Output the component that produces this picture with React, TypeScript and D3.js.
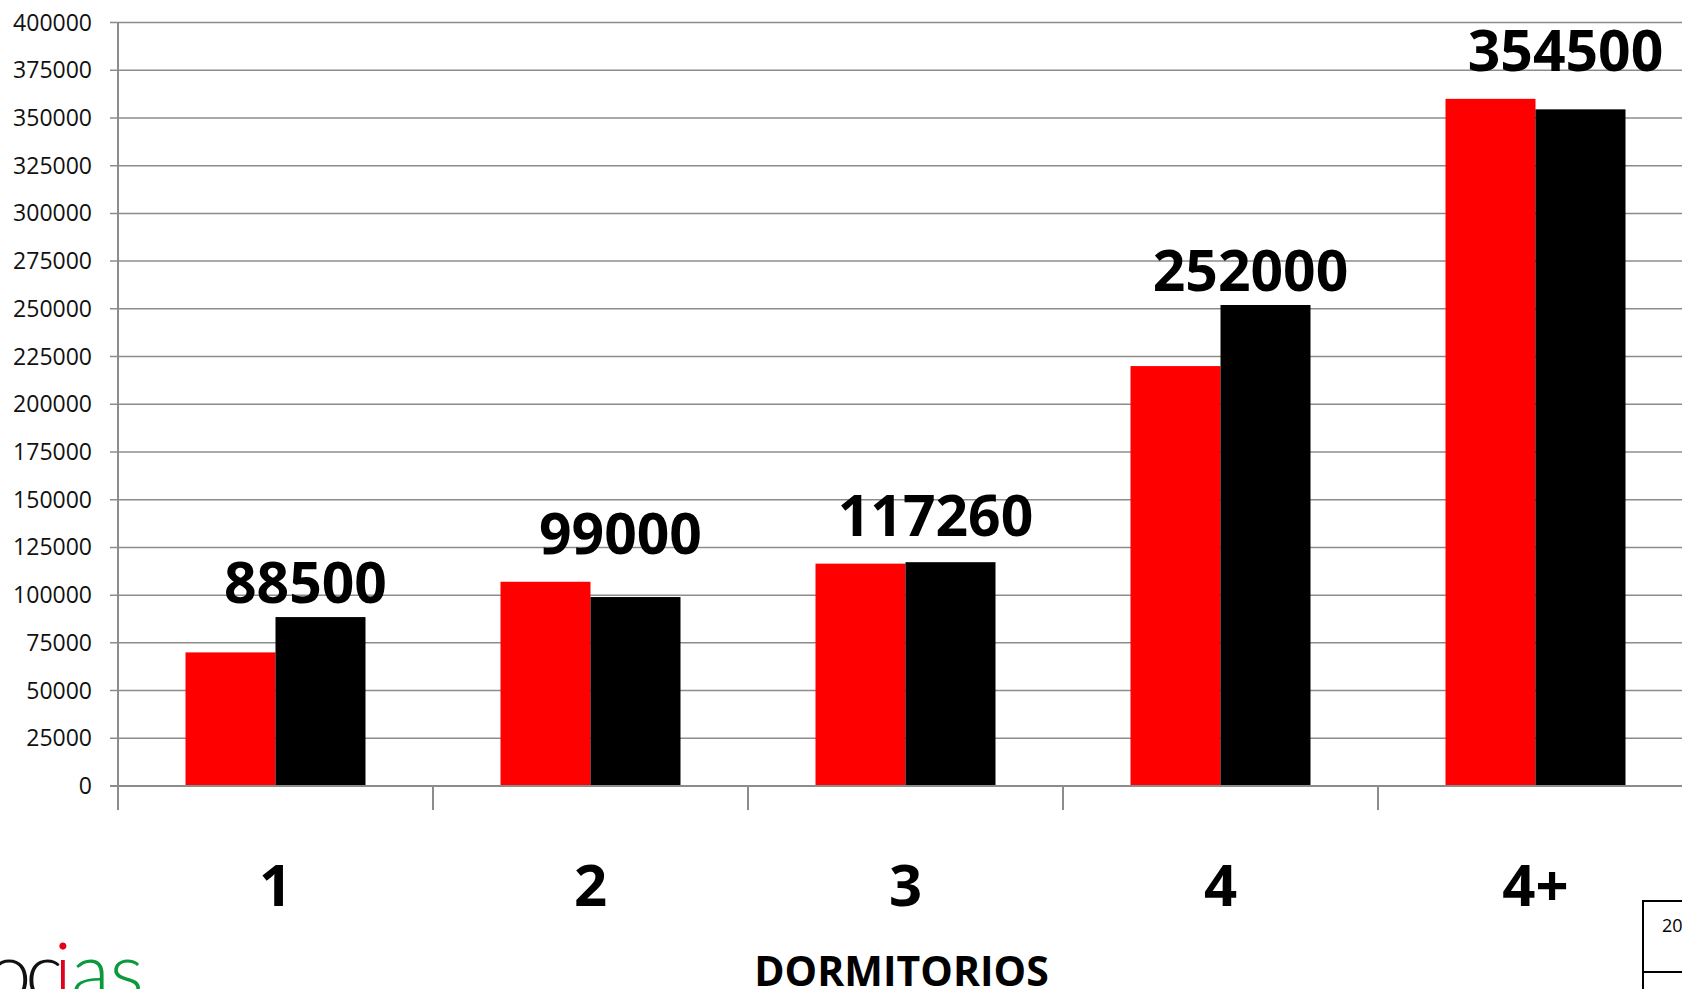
import { useEffect, useRef } from 'react';
import * as d3 from 'd3';

const categories = ['1', '2', '3', '4', '4+'];
const seriesNames = ['2013', '2014'];
const redValues = [70000, 107000, 116500, 220000, 360000];
const blackValues = [88500, 99000, 117260, 252000, 354500];
const yTicks = d3.range(0, 400001, 25000);

const W = 1682;
const H = 989;
const FONT = '"Open Sans", "Liberation Sans", sans-serif';

export default function App() {
    const svgRef = useRef<SVGSVGElement>(null);

    useEffect(() => {
        document.body.style.margin = '0';
        if (!svgRef.current) return;

        const left = 118;
        const step = 315;
        const top = 22.5;
        const bottom = 786;

        const x = d3.scaleBand<string>()
            .domain(categories)
            .range([left, left + step * categories.length])
            .paddingInner(0.4286)
            .paddingOuter(0.2143);
        const xs = d3.scaleBand<string>().domain(seriesNames).range([0, x.bandwidth()]);
        const y = d3.scaleLinear().domain([0, 400000]).range([bottom, top]);

        const svg = d3.select(svgRef.current);
        svg.selectAll('*').remove();
        svg.attr('width', W).attr('height', H);

        svg.append('rect').attr('width', W).attr('height', H).attr('fill', '#fff');

        // gridlines + y ticks
        svg.append('g').selectAll('line')
            .data(yTicks)
            .join('line')
            .attr('x1', left - 8).attr('x2', W)
            .attr('y1', d => y(d)).attr('y2', d => y(d))
            .attr('stroke', '#8c8c8c').attr('stroke-width', 1.5);

        svg.append('g').selectAll('text')
            .data(yTicks)
            .join('text')
            .attr('x', 92)
            .attr('y', d => y(d))
            .attr('dy', '0.35em')
            .attr('text-anchor', 'end')
            .attr('font-family', FONT).attr('font-size', 23).attr('fill', '#111')
            .text(d => String(d));

        // y axis line
        svg.append('line')
            .attr('x1', left).attr('x2', left)
            .attr('y1', top).attr('y2', bottom + 24)
            .attr('stroke', '#8c8c8c').attr('stroke-width', 2);

        // category separators below axis
        svg.append('g').selectAll('line')
            .data(categories.slice(1))
            .join('line')
            .attr('x1', d => x(d)! - x.step() * x.paddingInner() / 2)
            .attr('x2', d => x(d)! - x.step() * x.paddingInner() / 2)
            .attr('y1', bottom).attr('y2', bottom + 24)
            .attr('stroke', '#8c8c8c').attr('stroke-width', 2);

        // bars
        const bars = svg.append('g');
        bars.selectAll('rect.red')
            .data(categories)
            .join('rect')
            .attr('class', 'red')
            .attr('x', d => x(d)! + xs(seriesNames[0])!)
            .attr('y', (_, i) => y(redValues[i]))
            .attr('width', xs.bandwidth())
            .attr('height', (_, i) => bottom - y(redValues[i]))
            .attr('fill', '#ff0000');
        bars.selectAll('rect.black')
            .data(categories)
            .join('rect')
            .attr('class', 'black')
            .attr('x', d => x(d)! + xs(seriesNames[1])!)
            .attr('y', (_, i) => y(blackValues[i]))
            .attr('width', xs.bandwidth())
            .attr('height', (_, i) => bottom - y(blackValues[i]))
            .attr('fill', '#000');

        // x axis line
        svg.append('line')
            .attr('x1', left - 8).attr('x2', W)
            .attr('y1', bottom).attr('y2', bottom)
            .attr('stroke', '#8c8c8c').attr('stroke-width', 2);

        // value labels (kept clear of the taller red bar)
        svg.append('g').selectAll('text')
            .data(categories)
            .join('text')
            .attr('x', d => x(d)! + xs(seriesNames[1])! + xs.bandwidth() / 2 - 15)
            .attr('y', (_, i) => Math.min(y(blackValues[i]) - 14, y(redValues[i]) - 28))
            .attr('text-anchor', 'middle')
            .attr('font-family', FONT).attr('font-weight', 700).attr('font-size', 57)
            .attr('fill', '#000')
            .text((_, i) => String(blackValues[i]));

        // category labels
        svg.append('g').selectAll('text')
            .data(categories)
            .join('text')
            .attr('x', d => x(d)! + x.bandwidth() / 2)
            .attr('y', 906)
            .attr('text-anchor', 'middle')
            .attr('font-family', FONT).attr('font-weight', 700).attr('font-size', 58)
            .attr('fill', '#000')
            .text(d => d);

        svg.append('text')
            .attr('x', (x.range()[0] + x.range()[1]) / 2 - 4)
            .attr('y', 986)
            .attr('text-anchor', 'middle')
            .attr('font-family', FONT).attr('font-weight', 700).attr('font-size', 41)
            .attr('fill', '#000')
            .text('DORMITORIOS');

        // legend box (cut off at the right edge)
        const leg = svg.append('g');
        leg.append('rect')
            .attr('x', 1643).attr('y', 901).attr('width', 120).attr('height', 120)
            .attr('fill', 'none').attr('stroke', '#000').attr('stroke-width', 2);
        leg.append('line')
            .attr('x1', 1643).attr('x2', W).attr('y1', 972).attr('y2', 972)
            .attr('stroke', '#000').attr('stroke-width', 2);
        leg.append('text')
            .attr('x', 1662).attr('y', 932)
            .attr('font-family', FONT).attr('font-size', 18).attr('fill', '#000')
            .text(seriesNames[1]);

        // logo fragment
        const logoFont = 'Lato, sans-serif';
        svg.append('text')
            .attr('x', 57).attr('y', 1000).attr('text-anchor', 'end')
            .attr('font-family', logoFont).attr('font-weight', 300).attr('font-size', 80).attr('letter-spacing', -6)
            .attr('fill', '#111').text('oc');
        svg.append('text')
            .attr('x', 63).attr('y', 1000).attr('text-anchor', 'middle')
            .attr('font-family', logoFont).attr('font-weight', 300).attr('font-size', 80)
            .attr('fill', '#e3001b').text('i');
        svg.append('text')
            .attr('x', 71).attr('y', 1000)
            .attr('font-family', logoFont).attr('font-weight', 300).attr('font-size', 80)
            .attr('fill', '#0a9a3c').text('as');
    }, []);

    return <svg ref={svgRef} style={{ display: 'block' }} />;
}
